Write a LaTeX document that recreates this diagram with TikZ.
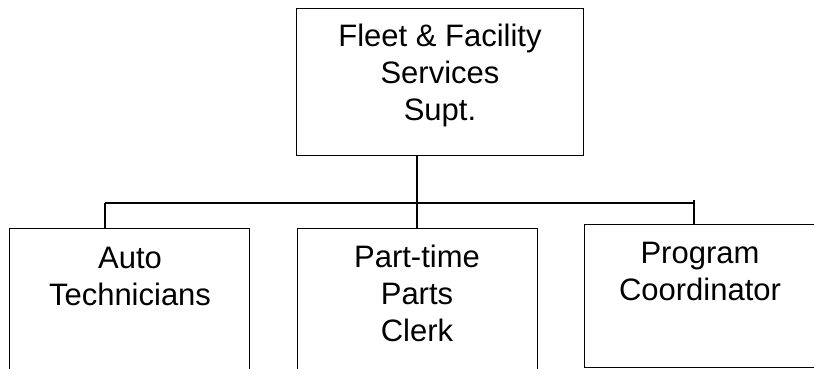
\documentclass[tikz,border=0pt]{standalone}
\usepackage{fontspec}
\setmainfont{Liberation Sans}
\usetikzlibrary{calc}
\begin{document}
\begin{tikzpicture}[x=1pt,y=-1pt,
  box/.style={draw=black, line width=1.2pt, rectangle, inner sep=0pt, anchor=north west},
  txt/.style={align=center, inner sep=0pt, anchor=base, font=\fontsize{31}{37}\selectfont},
  conn/.style={draw=black, line width=1.2pt}]
\useasboundingbox (0,0) rectangle (814,368);
\clip (0,0) rectangle (814,368);
\fill[white] (0,0) rectangle (814,368);
% boxes
\node[box, minimum width=287pt, minimum height=147pt] (top) at (296,8) {};
\node[box, minimum width=240pt, minimum height=147pt] (left) at (9,228) {};
\node[box, minimum width=240pt, minimum height=147pt] (mid) at (297,228) {};
\node[box, minimum width=236pt, minimum height=143pt] (right) at (584,224) {};
% texts (anchor base = last line's baseline)
\node[txt] (ttop) at (440,120) {Fleet \& Facility\\Services\\Supt.};
\node[txt] (tleft) at (130,305) {Auto\\Technicians};
\node[txt] (tmid) at (417,341) {Part-time\\Parts\\Clerk};
\node[txt] (tright) at (700,300) {Program\\Coordinator};
% connectors
\coordinate (vtop) at (417,155);
\coordinate (bl) at (105,203);
\coordinate (br) at (694,203);
\coordinate (brt) at (694,200);
\draw[conn] (vtop) -- (vtop |- mid.north);
\draw[conn] (bl) -- (br);
\draw[conn] (bl) -- (bl |- left.north);
\draw[conn] (brt) -- (brt |- right.north);
\end{tikzpicture}
\end{document}
